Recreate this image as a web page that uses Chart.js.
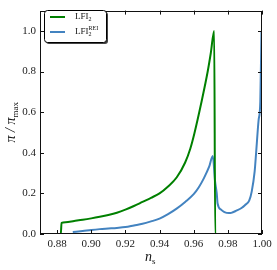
<!DOCTYPE html>
<html>
<head>
<meta charset="utf-8">
<script src="https://cdn.jsdelivr.net/npm/chart.js@4.4.1/dist/chart.umd.min.js"></script>
<style>
  body { margin: 0; background: #fff; }
  #wrap { width: 277px; height: 270px; }
</style>
</head>
<body>
<div id="wrap"><canvas id="myChart" width="277" height="270"></canvas></div>
<script>
// data
const nsLfi2 = [0.870, 0.8822, 0.8826, 0.885, 0.890, 0.895, 0.900, 0.905, 0.910, 0.915, 0.920, 0.925, 0.930, 0.935, 0.940, 0.945, 0.950, 0.955, 0.958, 0.9604, 0.9643, 0.9682, 0.970, 0.9720, 0.9726, 0.9824];
const piLfi2 = [0.0, 0.0, 0.055, 0.058, 0.064, 0.070, 0.077, 0.085, 0.094, 0.105, 0.120, 0.138, 0.158, 0.178, 0.200, 0.234, 0.278, 0.352, 0.420, 0.495, 0.640, 0.800, 0.890, 1.0, 0.0, 0.0];

const nsRei = [0.8892, 0.895, 0.900, 0.905, 0.910, 0.915, 0.920, 0.925, 0.930, 0.935, 0.940, 0.945, 0.950, 0.955, 0.960, 0.963, 0.966, 0.969, 0.9712, 0.9725, 0.9735, 0.974, 0.976, 0.978, 0.9806, 0.982, 0.985, 0.988, 0.990, 0.9925, 0.994, 0.9957, 0.9966, 0.998, 0.999, 0.9997];
const piRei = [0.010, 0.015, 0.020, 0.024, 0.027, 0.030, 0.034, 0.042, 0.050, 0.062, 0.076, 0.098, 0.125, 0.158, 0.196, 0.230, 0.275, 0.330, 0.384, 0.260, 0.200, 0.150, 0.120, 0.108, 0.103, 0.104, 0.115, 0.128, 0.142, 0.164, 0.210, 0.308, 0.405, 0.560, 0.650, 1.0];

const xTicks = [0.88, 0.90, 0.92, 0.94, 0.96, 0.98, 1.00];
const yTicks = [0.0, 0.2, 0.4, 0.6, 0.8, 1.0];

const green = '#008000';
const blue = '#4383c0';
const serif = '"Liberation Serif", "DejaVu Serif", serif';

const toPoints = (xs, ys) => xs.map((x, i) => ({ x: x, y: ys[i] }));

// frame, inward ticks on all four sides, axis titles, legend
const decor = {
  id: 'decor',
  afterDraw(chart) {
    const ctx = chart.ctx;
    const a = chart.chartArea;
    const xs = chart.scales.x, ys = chart.scales.y;
    ctx.save();
    ctx.strokeStyle = '#111';
    ctx.lineWidth = 1;
    ctx.strokeRect(Math.round(a.left) + 0.5, Math.round(a.top) + 0.5,
      Math.round(a.right - a.left) - 1, Math.round(a.bottom - a.top) - 1);
    ctx.beginPath();
    xTicks.forEach(v => {
      const px = Math.round(xs.getPixelForValue(v)) + 0.5;
      ctx.moveTo(px, a.bottom); ctx.lineTo(px, a.bottom - 4);
      ctx.moveTo(px, a.top); ctx.lineTo(px, a.top + 4);
    });
    yTicks.forEach(v => {
      const py = Math.round(ys.getPixelForValue(v)) + 0.5;
      ctx.moveTo(a.left, py); ctx.lineTo(a.left + 4, py);
      ctx.moveTo(a.right, py); ctx.lineTo(a.right - 4, py);
    });
    ctx.stroke();

    // x title: n_s
    ctx.fillStyle = '#111';
    ctx.textBaseline = 'alphabetic';
    ctx.textAlign = 'left';
    const cx = (a.left + a.right) / 2;
    ctx.font = 'italic 14px ' + serif;
    const nW = ctx.measureText('n').width;
    ctx.fillText('n', cx - 6, 261);
    ctx.font = '9px ' + serif;
    ctx.fillText('s', cx - 6 + nW, 264);

    // y title: pi / pi_max, rotated
    ctx.save();
    ctx.translate(15, (a.top + a.bottom) / 2);
    ctx.rotate(-Math.PI / 2);
    ctx.font = 'italic 14px ' + serif;
    const t1 = 'π / π';
    const w1 = ctx.measureText(t1).width;
    ctx.font = '9px ' + serif;
    const w2 = ctx.measureText('max').width;
    const x0 = -(w1 + w2) / 2;
    ctx.font = 'italic 14px ' + serif;
    ctx.fillText(t1, x0, 0);
    ctx.font = '9px ' + serif;
    ctx.fillText('max', x0 + w1, 3);
    ctx.restore();

    // legend
    const bx = 44.5, by = 10.5, bw = 62, bh = 32;
    ctx.fillStyle = '#444';
    ctx.beginPath(); ctx.roundRect(bx + 1.5, by + 1.5, bw, bh, 3); ctx.fill();
    ctx.fillStyle = '#fff';
    ctx.beginPath(); ctx.roundRect(bx, by, bw, bh, 3); ctx.fill();
    ctx.strokeStyle = '#000';
    ctx.stroke();

    const entries = [
      { color: green, y: 17, sup: '' },
      { color: blue, y: 32, sup: 'REI' }
    ];
    entries.forEach(e => {
      ctx.strokeStyle = e.color;
      ctx.lineWidth = 2;
      ctx.beginPath(); ctx.moveTo(50, e.y); ctx.lineTo(65, e.y); ctx.stroke();
      ctx.fillStyle = '#111';
      ctx.font = '9px ' + serif;
      ctx.fillText('LFI', 75, e.y + 2);
      const w = ctx.measureText('LFI').width;
      ctx.font = '6px ' + serif;
      ctx.fillText('2', 75 + w, e.y + 4);
      if (e.sup) ctx.fillText(e.sup, 75 + w, e.y - 2.5);
    });
    ctx.restore();
  }
};

const config = {
  type: 'scatter',
  data: {
    datasets: [
      { label: 'LFI2', data: toPoints(nsLfi2, piLfi2), borderColor: green, borderWidth: 2, showLine: true, pointRadius: 0, cubicInterpolationMode: 'monotone' },
      { label: 'LFI2rei', data: toPoints(nsRei, piRei), borderColor: blue, borderWidth: 2, showLine: true, pointRadius: 0, cubicInterpolationMode: 'monotone' }
    ]
  },
  options: {
    responsive: false,
    animation: false,
    layout: { padding: { top: 5, right: 15, left: 0, bottom: 0 } },
    plugins: { legend: { display: false }, tooltip: { enabled: false } },
    scales: {
      x: {
        type: 'linear', min: 0.87, max: 1.0,
        grid: { display: false, drawTicks: false },
        border: { display: false },
        afterBuildTicks: s => { s.ticks = xTicks.map(v => ({ value: v })); },
        afterFit: s => { s.height = 36; },
        ticks: { autoSkip: false, maxRotation: 0, padding: 4, color: '#222', font: { family: serif, size: 11 }, callback: v => v.toFixed(2) }
      },
      y: {
        type: 'linear', min: 0, max: 1.1,
        grid: { display: false, drawTicks: false },
        border: { display: false },
        afterBuildTicks: s => { s.ticks = yTicks.map(v => ({ value: v })); },
        afterFit: s => { s.width = 40; },
        ticks: { autoSkip: false, padding: 4, color: '#222', font: { family: serif, size: 11 }, callback: v => v.toFixed(1) }
      }
    }
  },
  plugins: [decor]
};

const myChart = new Chart(document.getElementById('myChart'), config);
</script>
</body>
</html>
